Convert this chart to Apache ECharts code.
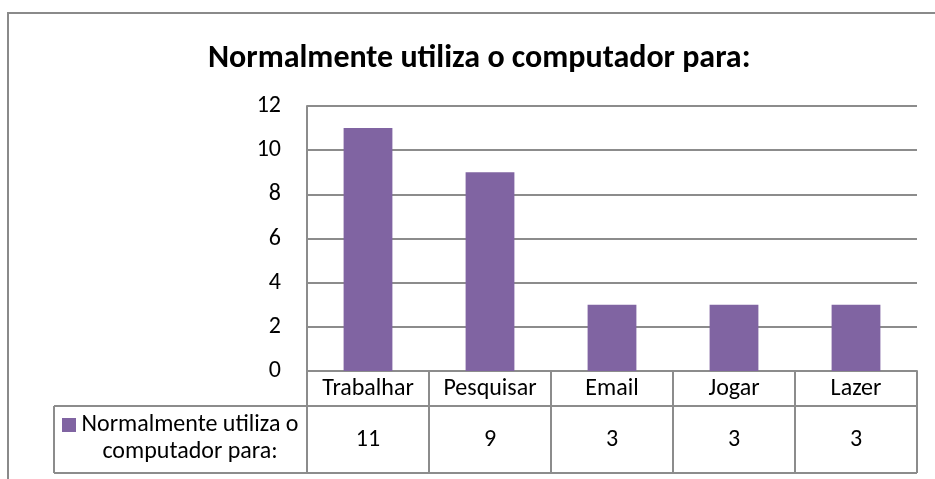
<!DOCTYPE html>
<html>
<head>
<meta charset="utf-8">
<script src="https://cdn.jsdelivr.net/npm/echarts@6/dist/echarts.min.js"></script>
<style>
  html, body { margin: 0; padding: 0; background: #fff; }
  #chart { width: 935px; height: 479px; }
</style>
</head>
<body>
<div id="chart"></div>
<script>
// Chart data
const titleText = 'Normalmente utiliza o computador para:';
const seriesName = 'Normalmente utiliza o computador para:';
const categories = ['Trabalhar', 'Pesquisar', 'Email', 'Jogar', 'Lazer'];
const values = [11, 9, 3, 3, 3];
const yTicks = { min: 0, max: 12, interval: 2 };
const legendLines = ['Normalmente utiliza o', 'computador para:'];

// Layout
const W = 935, H = 479;
const FONT = 'Carlito, "Open Sans", sans-serif';
const TEXT_SIZE = 24;
const LINE = '#8c8c8c';
const BAR = '#8064A2';
const grid = { left: 307, right: 18, top: 106, bottom: 108 };
const axisY = H - grid.bottom;        // y of the zero line / top of the table
const catRow = 35;                    // height of the category row
const valRow = 67;                    // height of the value row
const tableBottom = axisY + catRow + valRow;
const legendLeft = 54;

const chart = echarts.init(document.getElementById('chart'), null, { renderer: 'canvas' });

chart.setOption({
  animation: false,
  backgroundColor: '#fff',
  title: {
    text: titleText,
    left: 208,
    top: 43,
    padding: 0,
    textStyle: { fontFamily: FONT, fontWeight: 'bold', fontSize: 32, color: '#000' }
  },
  grid: { left: grid.left, right: grid.right, top: grid.top, bottom: grid.bottom, containLabel: false },
  xAxis: {
    type: 'category',
    data: categories,
    axisLine: { show: true, lineStyle: { color: LINE, width: 2 } },
    axisTick: {
      show: true, interval: 0, alignWithLabel: false,
      length: catRow + valRow,
      lineStyle: { color: LINE, width: 2 }
    },
    axisLabel: {
      interval: 0,
      margin: 0,
      verticalAlign: 'top',
      formatter: (v, i) => `{c|${v}}\n{v|${values[i]}}`,
      rich: {
        c: { fontFamily: FONT, fontSize: TEXT_SIZE, color: '#000', lineHeight: catRow, height: catRow, verticalAlign: 'middle' },
        v: { fontFamily: FONT, fontSize: TEXT_SIZE, color: '#000', lineHeight: valRow, height: valRow, verticalAlign: 'middle' }
      }
    }
  },
  yAxis: {
    type: 'value',
    min: yTicks.min, max: yTicks.max, interval: yTicks.interval,
    axisLine: { show: true, lineStyle: { color: LINE, width: 2 } },
    axisTick: { show: false },
    axisLabel: { fontFamily: FONT, fontSize: TEXT_SIZE, color: '#000', margin: 26 },
    splitLine: { show: true, lineStyle: { color: LINE, width: 2 } }
  },
  series: [{
    name: seriesName,
    type: 'bar',
    data: values,
    barWidth: '40%',
    itemStyle: { color: BAR }
  }],
  graphic: [
    // outer chart frame
    { type: 'rect', silent: true, shape: { x: 8, y: 13, width: W + 20, height: H + 20 },
      style: { fill: 'none', stroke: '#8a8a8a', lineWidth: 2 } },
    // data table: row separator, bottom edge and legend cell edge
    { type: 'line', silent: true, shape: { x1: legendLeft, y1: axisY + catRow, x2: W - grid.right, y2: axisY + catRow },
      style: { stroke: LINE, lineWidth: 2 } },
    { type: 'line', silent: true, shape: { x1: legendLeft, y1: tableBottom, x2: W - grid.right, y2: tableBottom },
      style: { stroke: LINE, lineWidth: 2 } },
    { type: 'line', silent: true, shape: { x1: legendLeft, y1: axisY + catRow, x2: legendLeft, y2: tableBottom },
      style: { stroke: LINE, lineWidth: 2 } },
    // legend key inside the table
    { type: 'rect', silent: true, shape: { x: 62, y: 418, width: 14, height: 14 }, style: { fill: BAR } },
    { type: 'text', silent: true, x: 190, y: 425,
      style: { text: legendLines[0], font: TEXT_SIZE + 'px ' + FONT, fill: '#000', align: 'center', verticalAlign: 'middle' } },
    { type: 'text', silent: true, x: 190, y: 452,
      style: { text: legendLines[1], font: TEXT_SIZE + 'px ' + FONT, fill: '#000', align: 'center', verticalAlign: 'middle' } }
  ]
});
</script>
</body>
</html>
